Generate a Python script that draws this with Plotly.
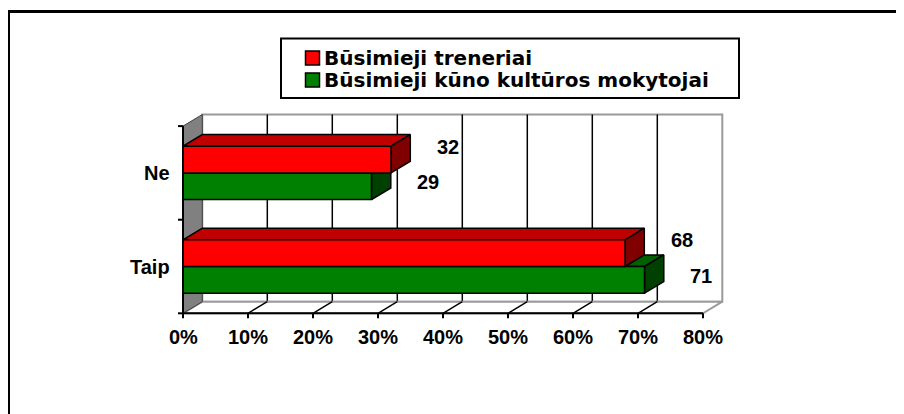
import plotly.graph_objects as go

# ---------------- data ----------------
categories = ["Taip", "Ne"]
series_names = ["Būsimieji treneriai", "Būsimieji kūno kultūros mokytojai"]
treneriai = [68, 32]
mokytojai = [71, 29]
x_tick_vals = [0, 10, 20, 30, 40, 50, 60, 70, 80]
x_tick_labels = ["0%", "10%", "20%", "30%", "40%", "50%", "60%", "70%", "80%"]

# ---------------- geometry / style ----------------
OFF = 8                          # page body margin offset
FIG_W, FIG_H = 904 - OFF, 414 - OFF
L, R, T, B = 162, 164, 92, 80
W, H = FIG_W - L - R, FIG_H - T - B
X0PX, PXX = 183.0 - OFF, 6.5     # pixel of x=0, pixels per unit
YBPX, PXY = 313.3 - OFF, 93.6    # pixel of y=-0.5, pixels per category
DX = 19.3 / PXX                  # depth offset (x, data units)
DY = 11.6 / PXY                  # depth offset (y, data units)
BW = 0.285                       # bar thickness
XMAX = x_tick_vals[-1]
YLO, YHI = -0.5, len(categories) - 0.5

x_range = [(L - X0PX) / PXX, (L + W - X0PX) / PXX]
y_range = [YLO + (YBPX - (FIG_H - B)) / PXY, YLO + (YBPX - T) / PXY]

FONT = "Liberation Sans, Arial, sans-serif"
RED, RED_TOP, RED_SIDE = "#FF0000", "#C00000", "#800000"
GRN, GRN_TOP, GRN_SIDE = "#008000", "#006000", "#004000"
WALL = "#808080"
EDGE = "#9A9A9A"


def px2paper_x(px):
    return (px - OFF - L) / W


def px2paper_y(py):
    return ((FIG_H - B) - (py - OFF)) / H


fig = go.Figure()


def poly(xs, ys, fill, line_color="black", lw=1.5):
    fig.add_trace(go.Scatter(
        x=list(xs) + [xs[0]], y=list(ys) + [ys[0]], mode="lines", fill="toself",
        fillcolor=fill, line=dict(color=line_color, width=lw),
        hoverinfo="skip", showlegend=False))


def lines(segs, color="black", lw=1.5):
    xs, ys = [], []
    for (x1, y1, x2, y2) in segs:
        xs += [x1, x2, None]
        ys += [y1, y2, None]
    fig.add_trace(go.Scatter(x=xs, y=ys, mode="lines",
                             line=dict(color=color, width=lw),
                             hoverinfo="skip", showlegend=False))


# back wall
poly([DX, XMAX + DX, XMAX + DX, DX], [YLO + DY, YLO + DY, YHI + DY, YHI + DY], "white", EDGE, 2)
# back wall gridlines
lines([(t + DX, YLO + DY, t + DX, YHI + DY) for t in x_tick_vals[1:-1]], "black", 1.5)
# floor
poly([0, XMAX, XMAX + DX, DX], [YLO, YLO, YLO + DY, YLO + DY], "white", EDGE, 2)
lines([(t, YLO, t + DX, YLO + DY) for t in x_tick_vals[1:-1]], "black", 1.5)
# left wall
poly([0, DX, DX, 0], [YLO, YLO + DY, YHI + DY, YHI], WALL, "#404040", 1)


def bar3d(v, y0, y1, front, top, side):
    poly([0, v, v + DX, DX], [y1, y1, y1 + DY, y1 + DY], top)
    poly([v, v + DX, v + DX, v], [y0, y0 + DY, y1 + DY, y1], side)
    poly([0, v, v, 0], [y0, y0, y1, y1], front)


for i, cat in enumerate(categories):
    bar3d(mokytojai[i], i - BW, i, GRN, GRN_TOP, GRN_SIDE)
    bar3d(treneriai[i], i, i + BW, RED, RED_TOP, RED_SIDE)

# axes lines and ticks
TLX = 5 / PXX
TLY = 5 / PXY
lines([(0, YLO, XMAX, YLO), (0, YLO, 0, YHI)], "black", 2)
lines([(t, YLO, t, YLO - TLY) for t in x_tick_vals] +
      [(0, y, -TLX, y) for y in [YLO + k for k in range(len(categories) + 1)]], "black", 2)

annotations = []
for t, lab in zip(x_tick_vals, x_tick_labels):
    annotations.append(dict(x=t, y=YLO, xref="x", yref="y", text=f"<b>{lab}</b>",
                            showarrow=False, xanchor="center", yanchor="middle",
                            yshift=-23.7, font=dict(family=FONT, size=20, color="black")))
for i, cat in enumerate(categories):
    annotations.append(dict(x=0, y=i, xref="x", yref="y", text=f"<b>{cat}</b>",
                            showarrow=False, xanchor="right", yanchor="middle",
                            xshift=-11, font=dict(family=FONT, size=20, color="black")))
    annotations.append(dict(x=treneriai[i] + DX, y=i + BW / 2, xref="x", yref="y",
                            text=f"<b>{treneriai[i]}</b>", showarrow=False,
                            xanchor="center", yanchor="middle", xshift=38, yshift=13,
                            font=dict(family=FONT, size=20, color="black")))
    annotations.append(dict(x=mokytojai[i] + DX, y=i - BW / 2, xref="x", yref="y",
                            text=f"<b>{mokytojai[i]}</b>", showarrow=False,
                            xanchor="center", yanchor="middle", xshift=37, yshift=4,
                            font=dict(family=FONT, size=20, color="black")))

# manual legend
shapes = []
shapes.append(dict(type="rect", xref="paper", yref="paper",
                   x0=px2paper_x(281), x1=px2paper_x(739),
                   y0=px2paper_y(98), y1=px2paper_y(38.5),
                   line=dict(color="black", width=2), fillcolor="white"))
for name, color, cy in zip(series_names, [RED, GRN], [58, 80]):
    shapes.append(dict(type="rect", xref="paper", yref="paper",
                       x0=px2paper_x(305.5), x1=px2paper_x(319.5),
                       y0=px2paper_y(cy + 7), y1=px2paper_y(cy - 7),
                       line=dict(color="black", width=1.5), fillcolor=color))
    annotations.append(dict(x=px2paper_x(322), y=px2paper_y(cy), xref="paper", yref="paper",
                            text=f"<b>{name}</b>", showarrow=False, xanchor="left",
                            yanchor="middle",
                            font=dict(family="DejaVu Sans", size=20, color="black")))

# chart frame (top and left edges visible)
shapes.append(dict(type="line", xref="paper", yref="paper",
                   x0=px2paper_x(7), x1=px2paper_x(910), y0=px2paper_y(11.5), y1=px2paper_y(11.5),
                   line=dict(color="black", width=3)))
shapes.append(dict(type="line", xref="paper", yref="paper",
                   x0=px2paper_x(8.5), x1=px2paper_x(8.5), y0=px2paper_y(10), y1=px2paper_y(420),
                   line=dict(color="black", width=3)))

fig.update_layout(
    width=FIG_W, height=FIG_H,
    margin=dict(l=L, r=R, t=T, b=B, pad=0),
    paper_bgcolor="white", plot_bgcolor="white",
    showlegend=False,
    xaxis=dict(range=x_range, visible=False, fixedrange=True),
    yaxis=dict(range=y_range, visible=False, fixedrange=True),
    shapes=shapes, annotations=annotations,
)

fig.write_html("out.html")
